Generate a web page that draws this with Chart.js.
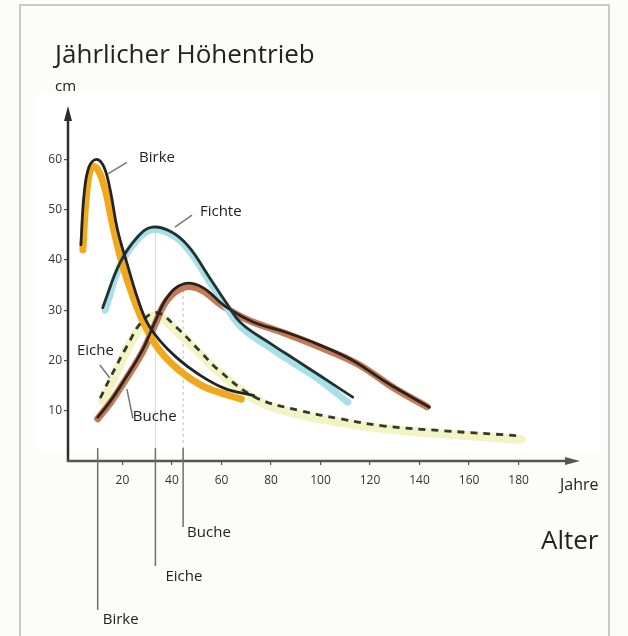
<!DOCTYPE html>
<html><head><meta charset="utf-8">
<script src="https://cdn.jsdelivr.net/npm/chart.js@4.4.1/dist/chart.umd.min.js"></script>
<style>html,body{margin:0;padding:0;background:#fcfcf9}canvas{display:block}</style>
</head><body>
<canvas id="c" width="628" height="636"></canvas>
<script>
// ---- tick labels ----
const xTicks = [20, 40, 60, 80, 100, 120, 140, 160, 180];
const yTicks = [10, 20, 30, 40, 50, 60];

// ---- Birke (black outline + orange band) ----
const birkeYears  = [3.2, 4.5, 6.5, 9.5, 12.5, 15, 18, 22, 26, 30, 35, 42, 50, 61, 73];
const birkeValues = [43, 53, 58.5, 60, 58.5, 54, 46, 39, 32.5, 27.5, 24, 20.5, 17.5, 14.5, 13];
const birkeBandYears  = [4, 5.5, 7.5, 10, 13, 16, 20, 24, 29, 35, 43, 52, 60, 68];
const birkeBandValues = [42, 53, 58.5, 58, 54, 47, 39, 33, 27, 22, 18, 15, 13.5, 12.3];

// ---- Fichte (black outline + light blue band) ----
const fichteYears  = [12, 19, 26, 32, 40, 47, 55, 62, 68, 80, 90, 100, 113];
const fichteValues = [30.5, 39.4, 44.5, 46.5, 45.5, 42.5, 36.6, 31.4, 27.4, 23.3, 20.1, 16.9, 12.7];
const fichteBandYears  = [13, 19, 26, 32, 40, 47, 55, 62, 68, 80, 90, 100, 111];
const fichteBandValues = [30, 38.8, 44, 46, 45, 41.8, 35.8, 30.6, 26.6, 22.4, 19.2, 16, 11.7];

// ---- Buche (black outline + brown band) ----
const bucheYears  = [10, 15, 20, 28, 33, 38, 44.5, 52, 62, 73, 86, 100, 113, 127, 144];
const bucheValues = [8.7, 11.8, 15.5, 22, 27.5, 32.5, 35.2, 34.6, 30.6, 27.6, 25.6, 23, 20, 15.5, 10.7];
const bucheBandYears  = [10, 15, 20, 28, 33, 38, 45, 52, 60, 70, 85, 100, 115, 130, 143];
const bucheBandValues = [8.4, 11.5, 15.2, 21.6, 27, 32, 34.6, 34, 31, 28.2, 25.5, 22.6, 19.3, 14.4, 10.8];

// ---- Eiche (dashed outline + pale yellow band) ----
const eicheYears  = [11, 15, 22, 28, 34, 42, 51, 59, 74, 92, 108, 125, 150, 181];
const eicheValues = [12.5, 16.5, 23, 27.8, 29.5, 26.5, 22, 18, 12.6, 10, 8.4, 7, 6, 5];
const eicheBandYears  = [12, 16, 22, 28, 34, 42, 52, 60, 75, 92, 110, 130, 155, 181];
const eicheBandValues = [12, 16, 22.3, 27, 28.8, 25.8, 21, 17.2, 11.9, 9.2, 7.5, 6.2, 5.2, 4.3];

// ---- age markers below the axis ----
const markerLabels = ['Birke', 'Eiche', 'Buche'];
const markerYears  = [10, 33.3, 44.5];

function pts(xs, ys) { return xs.map((x, i) => ({ x: x, y: ys[i] })); }
const FONT = '"Open Sans", "DejaVu Sans", sans-serif';

function band(data, color, w) {
  return { data: data, borderColor: color, borderWidth: w, order: 2, tension: 0.4,
           pointRadius: 0, fill: false, borderCapStyle: 'round' };
}
function outline(data, color, w, dash) {
  return { data: data, borderColor: color, borderWidth: w, order: 1, borderDash: dash || [], tension: 0.4,
           pointRadius: 0, fill: false, borderCapStyle: dash ? 'butt' : 'round' };
}

const deco = {
  id: 'deco',
  beforeDraw(chart) {
    const { ctx, chartArea: a, scales } = chart;
    const X = v => scales.x.getPixelForValue(v), Y = v => scales.y.getPixelForValue(v);
    ctx.save();
    ctx.fillStyle = '#fcfcf9'; ctx.fillRect(0, 0, chart.width, chart.height);
    ctx.fillStyle = '#ffffff';
    ctx.fillRect(a.left - 30, a.top - 14, a.right - a.left + 52, a.bottom - a.top + 6);
    // frame
    ctx.strokeStyle = '#c9c9c9'; ctx.lineWidth = 2;
    ctx.beginPath(); ctx.moveTo(20, chart.height + 5); ctx.lineTo(20, 5);
    ctx.lineTo(609, 5); ctx.lineTo(609, chart.height + 5); ctx.stroke();
    // faint peak guide lines
    ctx.lineWidth = 1;
    ctx.strokeStyle = 'rgba(150,210,220,0.6)';
    ctx.beginPath(); ctx.moveTo(X(markerYears[1]), Y(Math.max(...fichteValues))); ctx.lineTo(X(markerYears[1]), a.bottom); ctx.stroke();
    ctx.strokeStyle = 'rgba(120,120,120,0.45)'; ctx.setLineDash([3, 3]);
    ctx.beginPath(); ctx.moveTo(X(markerYears[2]), Y(Math.max(...bucheValues))); ctx.lineTo(X(markerYears[2]), a.bottom); ctx.stroke();
    ctx.restore();
  },
  afterDraw(chart) {
    const { ctx, chartArea: a, scales } = chart;
    const X = v => scales.x.getPixelForValue(v), Y = v => scales.y.getPixelForValue(v);
    ctx.save();
    // axes
    ctx.strokeStyle = '#2e2e2e'; ctx.fillStyle = '#2e2e2e'; ctx.lineWidth = 2.5; ctx.lineCap = 'butt';
    ctx.beginPath(); ctx.moveTo(a.left, a.bottom + 1); ctx.lineTo(a.left, a.top + 8); ctx.stroke();
    ctx.beginPath(); ctx.moveTo(a.left, a.top - 2); ctx.lineTo(a.left - 4, a.top + 13); ctx.lineTo(a.left + 4, a.top + 13); ctx.closePath(); ctx.fill();
    ctx.strokeStyle = '#555'; ctx.fillStyle = '#555';
    ctx.beginPath(); ctx.moveTo(a.left - 1, a.bottom); ctx.lineTo(a.right - 8, a.bottom); ctx.stroke();
    ctx.beginPath(); ctx.moveTo(a.right + 2, a.bottom); ctx.lineTo(a.right - 13, a.bottom - 4); ctx.lineTo(a.right - 13, a.bottom + 4); ctx.closePath(); ctx.fill();

    // texts
    ctx.fillStyle = '#222'; ctx.textBaseline = 'alphabetic'; ctx.textAlign = 'left';
    ctx.font = '26px ' + FONT; ctx.fillText('Jährlicher Höhentrieb', 55, 63);
    ctx.font = '15px ' + FONT; ctx.fillText('cm', 55, 91);
    ctx.font = '16px ' + FONT; ctx.fillText('Jahre', 560, 490);
    ctx.font = '26px ' + FONT; ctx.fillText('Alter', 541, 549);

    // curve labels with leaders (anchored in data units)
    const labels = [
      { t: 'Birke',  at: [26.7, 59.4], l: [[14.1, 57.1], [21.8, 59.4]] },
      { t: 'Fichte', at: [51.3, 48.7], l: [[41.2, 46.5], [48.1, 48.9]] },
      { t: 'Eiche',  at: [1.6, 21.1],  l: [[10.9, 19.1], [14.9, 16.5]] },
      { t: 'Buche',  at: [24.2, 8.0],  l: [[21.8, 14.3], [24.2, 8.5]] }
    ];
    ctx.font = '15px ' + FONT;
    labels.forEach(o => {
      ctx.strokeStyle = '#777'; ctx.lineWidth = 1.5;
      ctx.beginPath(); ctx.moveTo(X(o.l[0][0]), Y(o.l[0][1])); ctx.lineTo(X(o.l[1][0]), Y(o.l[1][1])); ctx.stroke();
      ctx.fillStyle = '#222'; ctx.fillText(o.t, X(o.at[0]), Y(o.at[1]));
    });

    // age markers below the axis
    const drops = [149, 105, 66], textDx = [5, 10, 4], textDy = [163, 120, 76];
    markerYears.forEach((yr, i) => {
      const x = X(yr);
      ctx.strokeStyle = '#6f6f6f'; ctx.lineWidth = 1.5;
      ctx.beginPath(); ctx.moveTo(x, a.bottom - 13); ctx.lineTo(x, a.bottom + drops[i]); ctx.stroke();
      ctx.fillStyle = '#222'; ctx.font = '15px ' + FONT;
      ctx.fillText(markerLabels[i], x + textDx[i], a.bottom + textDy[i]);
    });
    ctx.restore();
  }
};

function make() {
  new Chart(document.getElementById('c'), {
    type: 'line',
    data: {
      datasets: [
        outline(pts(birkeYears, birkeValues), '#232323', 2.8),
        outline(pts(fichteYears, fichteValues), '#1f3333', 2.8),
        outline(pts(bucheYears, bucheValues), '#2c211c', 2.8),
        outline(pts(eicheYears, eicheValues), '#33392c', 2.8, [7, 6]),
        band(pts(birkeBandYears, birkeBandValues), '#f2a81c', 7),
        band(pts(fichteBandYears, fichteBandValues), '#a9dfe6', 7),
        band(pts(bucheBandYears, bucheBandValues), '#c47a55', 7),
        band(pts(eicheBandYears, eicheBandValues), '#f2f4c4', 9)
      ]
    },
    options: {
      responsive: false, animation: false, events: [],
      layout: { padding: { left: 20, right: 50, top: 108, bottom: 145 } },
      plugins: { legend: { display: false }, tooltip: { enabled: false }, title: { display: false } },
      scales: {
        x: {
          type: 'linear', min: -2, max: 204,
          afterFit: s => { s.height = 30; },
          afterBuildTicks: s => { s.ticks = xTicks.map(v => ({ value: v })); },
          grid: { drawOnChartArea: false, drawTicks: true, tickLength: 4, color: '#555', lineWidth: 1.2 },
          border: { display: false },
          ticks: { padding: 8, color: '#333', font: { family: FONT, size: 12 }, maxRotation: 0, autoSkip: false }
        },
        y: {
          type: 'linear', min: 0, max: 70.2,
          afterFit: s => { s.width = 48; },
          afterBuildTicks: s => { s.ticks = yTicks.map(v => ({ value: v })); },
          grid: { drawOnChartArea: false, drawTicks: true, tickLength: 4, color: '#555', lineWidth: 1.2 },
          border: { display: false },
          ticks: { padding: 2, color: '#333', font: { family: FONT, size: 12 }, autoSkip: false }
        }
      }
    },
    plugins: [deco]
  });
}
const ready = document.fonts && document.fonts.load
  ? Promise.all([document.fonts.load('26px "Open Sans"'), document.fonts.load('12px "Open Sans"')]).catch(() => {})
  : Promise.resolve();
Promise.race([ready, new Promise(r => setTimeout(r, 500))]).then(make);
</script>
</body></html>
